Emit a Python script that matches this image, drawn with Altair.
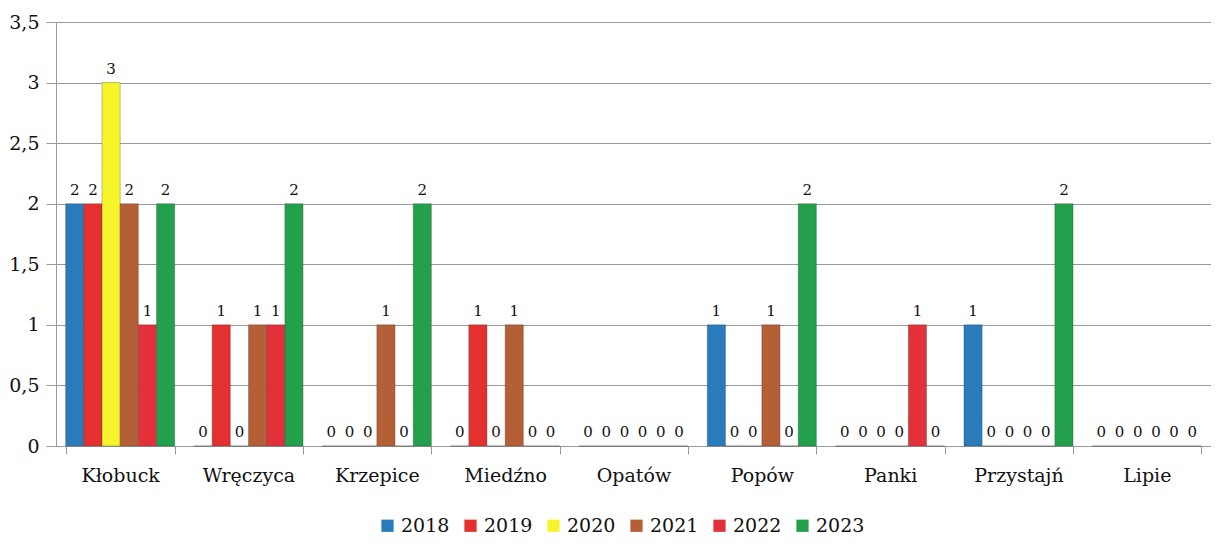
import altair as alt
import pandas as pd

categories = ["Kłobuck", "Wręczyca", "Krzepice", "Miedźno", "Opatów", "Popów", "Panki", "Przystajń", "Lipie"]
years = ["2018", "2019", "2020", "2021", "2022", "2023"]
v2018 = [2, 0, 0, 0, 0, 1, 0, 1, 0]
v2019 = [2, 1, 0, 1, 0, 0, 0, 0, 0]
v2020 = [3, 0, 0, 0, 0, 0, 0, 0, 0]
v2021 = [2, 1, 1, 1, 0, 1, 0, 0, 0]
v2022 = [1, 1, 0, 0, 0, 0, 1, 0, 0]
v2023 = [2, 2, 2, 0, 0, 2, 0, 2, 0]
colors = ["#2a7bbb", "#e4312f", "#f6f52c", "#b55f36", "#e2313a", "#23a04b"]

series = [v2018, v2019, v2020, v2021, v2022, v2023]
rows = []
for y, vals in zip(years, series):
    for c, v in zip(categories, vals):
        rows.append({"gmina": c, "rok": y, "wartosc": v})
df = pd.DataFrame(rows)

FONT = "DejaVu Serif"

x = alt.X("gmina:N", sort=categories, title=None,
          scale=alt.Scale(paddingInner=0.15, paddingOuter=0.075),
          axis=alt.Axis(labelAngle=0, labelFont=FONT, labelFontSize=19, labelColor="#111",
                        labelPadding=12, tickBand="extent", tickSize=8, tickColor="#999",
                        domainColor="#999", grid=False))
xo = alt.XOffset("rok:N", sort=years)

base = alt.Chart(df)

bars = base.mark_bar(stroke="#333", strokeWidth=0.6, strokeOpacity=0.5).encode(
    x=x,
    xOffset=xo,
    y=alt.Y("wartosc:Q", title=None,
            scale=alt.Scale(domain=[0, 3.5], nice=False),
            axis=alt.Axis(values=[0, 0.5, 1, 1.5, 2, 2.5, 3, 3.5],
                          labelExpr="replace(toString(datum.value), '.', ',')",
                          labelFont=FONT, labelFontSize=19, labelColor="#111",
                          tickSize=10, tickColor="#999", domainColor="#999",
                          gridColor="#999", gridWidth=1, labelPadding=7)),
    color=alt.Color("rok:N", sort=years, title=None,
                    scale=alt.Scale(domain=years, range=colors),
                    legend=alt.Legend(orient="none", legendX=322, legendY=494,
                                      direction="horizontal",
                                      symbolType="square", symbolSize=150,
                                      symbolStrokeWidth=0,
                                      labelFont=FONT, labelFontSize=19, labelColor="#111",
                                      labelOffset=4, columnPadding=11)),
)

labels = base.mark_text(font=FONT, fontSize=15, color="#111", baseline="bottom", dy=-6).encode(
    x=x,
    xOffset=xo,
    y=alt.Y("wartosc:Q"),
    text=alt.Text("wartosc:Q"),
)

chart = (bars + labels).properties(
    width=1155, height=424,
    padding={"left": 0, "top": 5, "right": 0, "bottom": 0},
).configure_view(stroke=None).configure_axis(domainWidth=1)

chart.save("out.html", embed_options={"renderer": "svg", "actions": False})
